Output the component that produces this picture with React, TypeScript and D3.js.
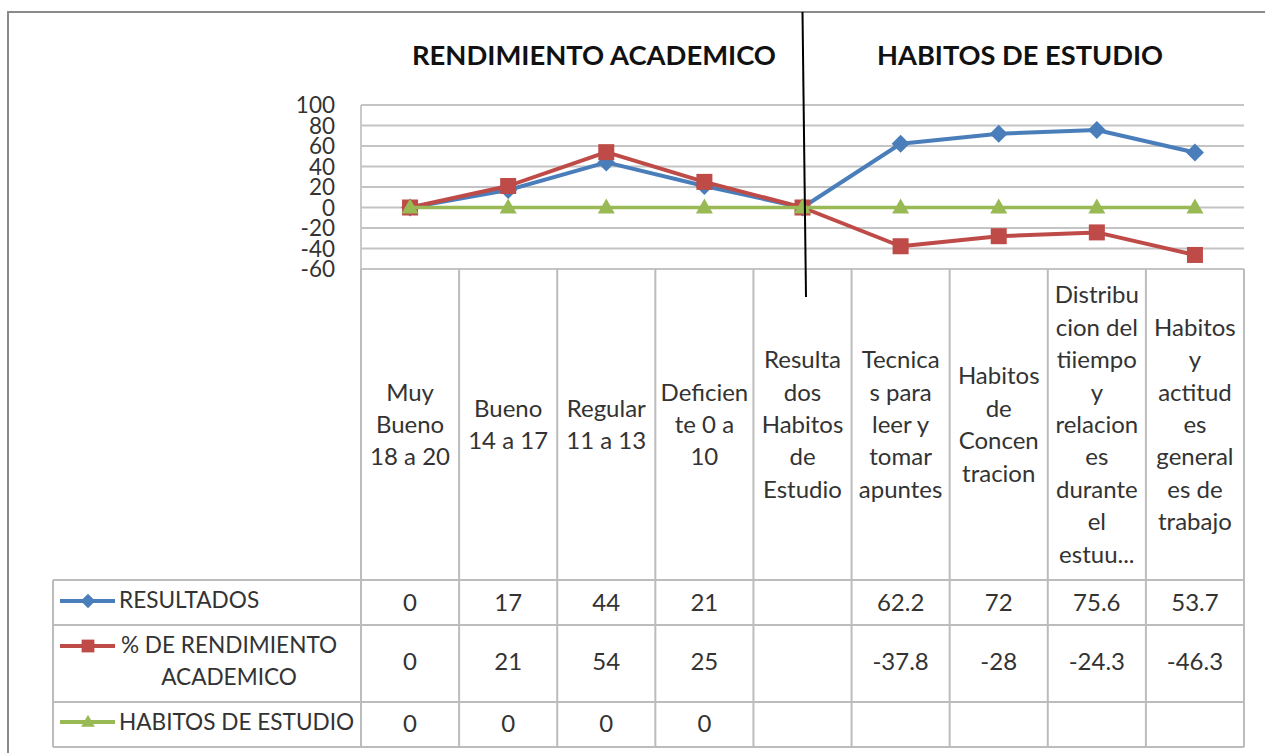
import React from "react";
import * as d3 from "d3";

const categoryLines: string[][] = [
  ["Muy", "Bueno", "18 a 20"],
  ["Bueno", "14 a 17"],
  ["Regular", "11 a 13"],
  ["Deficien", "te 0 a", "10"],
  ["Resulta", "dos", "Habitos", "de", "Estudio"],
  ["Tecnica", "s para", "leer y", "tomar", "apuntes"],
  ["Habitos", "de", "Concen", "tracion"],
  ["Distribu", "cion del", "tiiempo", "y", "relacion", "es", "durante", "el", "estuu..."],
  ["Habitos", "y", "actitud", "es", "general", "es de", "trabajo"],
];
const categories = categoryLines.map((l) => l.join(" "));

const resultados: (number | null)[] = [0, 17, 44, 21, null, 62.2, 72, 75.6, 53.7];
const rendimiento: (number | null)[] = [0, 21, 54, 25, null, -37.8, -28, -24.3, -46.3];
const habitos: (number | null)[] = [0, 0, 0, 0, null, null, null, null, null];

const yTicks = [-60, -40, -20, 0, 20, 40, 60, 80, 100];
const titles = ["RENDIMIENTO ACADEMICO", "HABITOS DE ESTUDIO"];

const seriesNames = [["RESULTADOS"], ["% DE RENDIMIENTO", "ACADEMICO"], ["HABITOS DE ESTUDIO"]];
const seriesData = [resultados, rendimiento, habitos];
const seriesColors = ["#4A7EBB", "#BE4B48", "#98B954"];
const seriesMarkers = ["diamond", "square", "triangle"];

const FONT = "Lato, 'Open Sans', sans-serif";
const TXT = "#333333";
const GRID = "#c4c4c4";
const BORDER = "#bcbcbc";

function marker(type: string, x: number, y: number, color: string, s = 1) {
  if (type === "diamond") {
    const r = 9 * s;
    return <path d={`M${x},${y - r}L${x + r},${y}L${x},${y + r}L${x - r},${y}Z`} fill={color} />;
  }
  if (type === "square") {
    const r = 8 * s;
    return <rect x={x - r} y={y - r} width={2 * r} height={2 * r} fill={color} />;
  }
  const w = 8.5 * s;
  const h = 15 * s;
  return <path d={`M${x},${y - h * 0.6}L${x + w},${y + h * 0.4}L${x - w},${y + h * 0.4}Z`} fill={color} />;
}

export default function App() {
  const W = 1265;
  const H = 753;
  const left = 361;
  const right = 1244;
  const x = d3.scaleBand<string>().domain(categories).range([left, right]);
  const y = d3.scaleLinear().domain([-60, 100]).range([269, 105]);
  const bw = x.bandwidth();
  const cx = (i: number) => (x(categories[i]) as number) + bw / 2;

  const rowLines = [580, 625, 702, 747];
  const legLeft = 53;

  const line = d3
    .line<number | null>()
    .x((_, i) => cx(i))
    .y((d) => y(d ?? 0));

  const boundaries = categories.map((c) => x(c) as number).concat([right]);

  const rowValueBaseline = [611, 670, 732];
  const legendLineY = [601, 646, 722];
  const legendTextY = [[608], [653, 685], [730]];

  return (
    <svg width={W} height={H} style={{ position: "absolute", left: 0, top: 0, display: "block", background: "#fff" }}>
      <rect x={0} y={0} width={W} height={H} fill="#fff" />
      {/* outer border */}
      <rect x={8} y={12} width={W + 10} height={H + 10} fill="none" stroke="#8a8a8a" strokeWidth={2} />

      {/* titles */}
      <text x={594} y={65} textAnchor="middle" fontFamily={FONT} fontWeight="bold" fontSize={26} fill="#111" textLength={364} lengthAdjust="spacingAndGlyphs">
        {titles[0]}
      </text>
      <text x={1020} y={65} textAnchor="middle" fontFamily={FONT} fontWeight="bold" fontSize={26} fill="#111" textLength={286} lengthAdjust="spacingAndGlyphs">
        {titles[1]}
      </text>

      {/* gridlines */}
      {yTicks.map((t) => (
        <line key={t} x1={left} x2={right} y1={y(t)} y2={y(t)} stroke={GRID} strokeWidth={1.8} />
      ))}
      <line x1={left} x2={left} y1={y(100)} y2={y(-60)} stroke={GRID} strokeWidth={1.8} />
      {yTicks.map((t) => (
        <text key={"t" + t} x={335} y={y(t) + 8} textAnchor="end" fontFamily={FONT} fontSize={22.5} fill={TXT}>
          {t}
        </text>
      ))}

      {/* table borders */}
      {boundaries.map((b, i) => (
        <line key={"vb" + i} x1={b} x2={b} y1={y(-60)} y2={rowLines[3]} stroke={BORDER} strokeWidth={2} />
      ))}
      <line x1={legLeft} x2={legLeft} y1={rowLines[0]} y2={rowLines[3]} stroke={BORDER} strokeWidth={2} />
      {rowLines.map((r, i) => (
        <line key={"hr" + i} x1={legLeft} x2={right} y1={r} y2={r} stroke={BORDER} strokeWidth={2} />
      ))}

      {/* header labels */}
      {categoryLines.map((lines, i) => (
        <text key={"c" + i} textAnchor="middle" fontFamily={FONT} fontSize={24} fill={TXT}>
          {lines.map((l, j) => (
            <tspan key={j} x={cx(i)} y={433 + (j - (lines.length - 1) / 2) * 32.4}>
              {l}
            </tspan>
          ))}
        </text>
      ))}

      {/* table values */}
      {seriesData.map((arr, si) =>
        arr.map((v, i) =>
          v === null ? null : (
            <text key={`v${si}-${i}`} x={cx(i)} y={rowValueBaseline[si]} textAnchor="middle" fontFamily={FONT} fontSize={24} fill={TXT}>
              {String(v)}
            </text>
          )
        )
      )}

      {/* legend keys */}
      {seriesNames.map((names, si) => (
        <g key={"lg" + si}>
          <line x1={60} x2={115} y1={legendLineY[si]} y2={legendLineY[si]} stroke={seriesColors[si]} strokeWidth={4} />
          {marker(seriesMarkers[si], 88, legendLineY[si], seriesColors[si], 0.8)}
          {names.length === 1 ? (
            <text x={119} y={legendTextY[si][0]} fontFamily={FONT} fontSize={22.6} fill={TXT}>
              {names[0]}
            </text>
          ) : (
            names.map((n, j) => (
              <text key={j} x={229} y={legendTextY[si][j]} textAnchor="middle" fontFamily={FONT} fontSize={22.6} fill={TXT}>
                {n}
              </text>
            ))
          )}
        </g>
      ))}

      {/* series lines */}
      {seriesData.map((arr, si) => (
        <g key={"s" + si}>
          <path d={line(arr) as string} fill="none" stroke={seriesColors[si]} strokeWidth={si === 2 ? 3.5 : 4} strokeLinejoin="round" />
          {arr.map((v, i) => (
            <g key={i}>{marker(seriesMarkers[si], cx(i), y(v ?? 0), seriesColors[si])}</g>
          ))}
        </g>
      ))}

      {/* separator */}
      <line x1={802.5} y1={12} x2={806} y2={297} stroke="#000" strokeWidth={2} />
    </svg>
  );
}
